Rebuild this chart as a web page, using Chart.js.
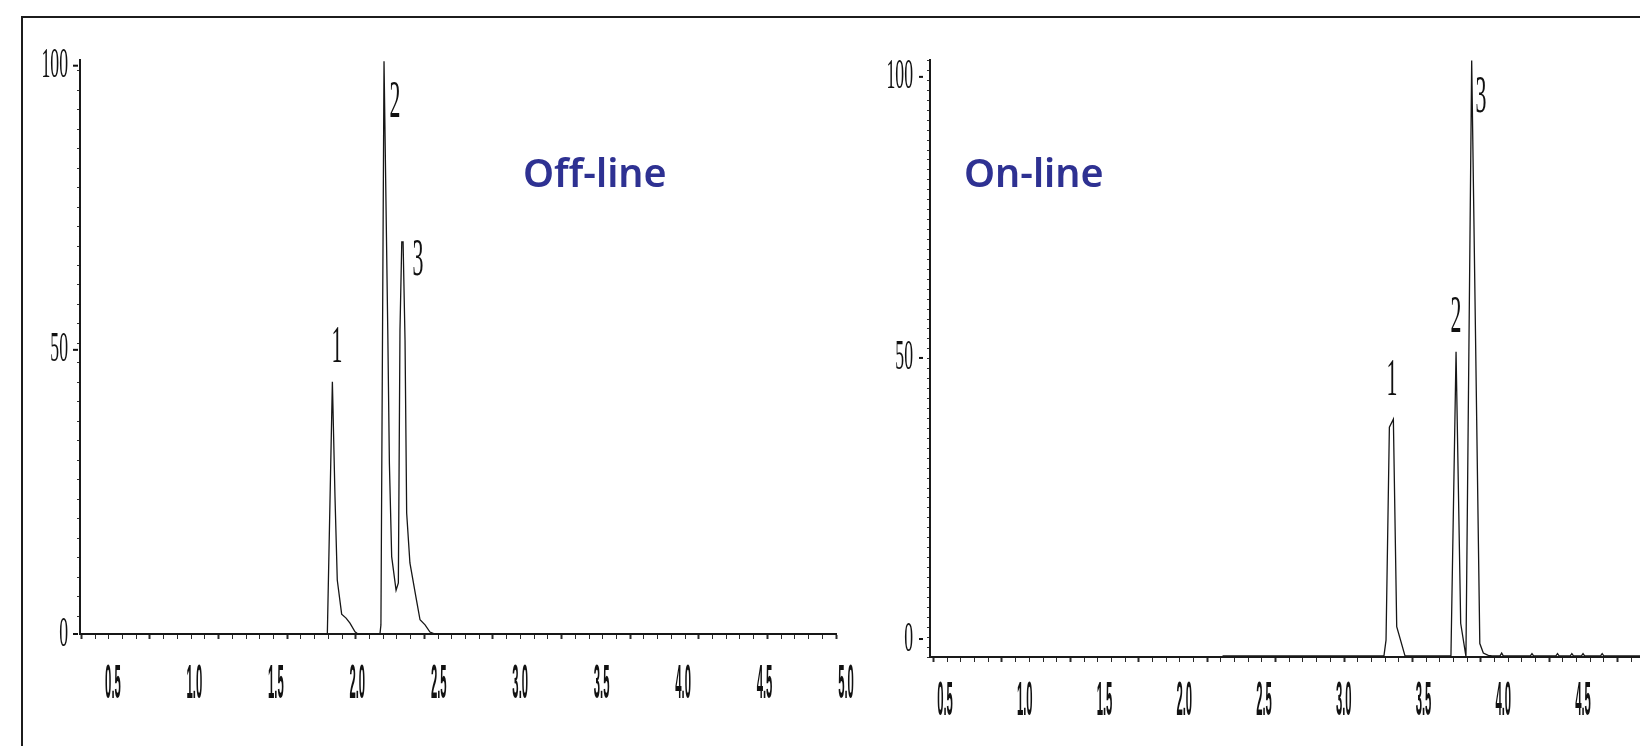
<!DOCTYPE html>
<html>
<head>
<meta charset="utf-8">
<title>Off-line / On-line</title>
<script src="https://cdn.jsdelivr.net/npm/chart.js@4.4.1/dist/chart.umd.min.js"></script>
<style>
html,body{margin:0;padding:0;background:#fff;overflow:hidden;width:1640px;height:746px;}
#frame{position:absolute;left:21px;top:16px;width:1700px;height:800px;border-left:2px solid #1c1c1c;border-top:2px solid #1c1c1c;}
canvas{position:absolute;top:0;}
#cOff{left:0;}
#cOn{left:850px;}
.tag{position:absolute;top:152px;font-family:"Noto Sans",sans-serif;font-weight:600;font-size:39.5px;line-height:40px;color:#2e3192;white-space:nowrap;}
</style>
</head>
<body>
<div id="frame"></div>
<canvas id="cOff" width="870" height="746"></canvas>
<canvas id="cOn" width="830" height="746"></canvas>
<div class="tag" style="left:523px">Off-line</div>
<div class="tag" style="left:964px">On-line</div>
<script>
/* Chromatograms: time (min) vs response (%) */
var offTime   = [0.30, 1.816, 1.847, 1.863, 1.877, 1.904, 1.931, 1.955, 1.986, 2.004,
                 2.139, 2.145, 2.164, 2.187, 2.197, 2.211, 2.238, 2.252, 2.262, 2.273,
                 2.281, 2.293, 2.303, 2.323, 2.360, 2.385, 2.416, 2.446, 2.477, 4.94];
var offSignal = [0, 0, 44.4, 24.2, 9.5, 3.5, 2.8, 1.9, 0.4, 0,
                 0, 1.6, 100.8, 53.5, 30.0, 13.6, 7.7, 9.0, 53.5, 69.0,
                 69.0, 51.7, 21.3, 12.5, 6.5, 2.5, 1.6, 0.35, 0, 0];

var onTime   = [2.24, 3.252, 3.265, 3.286, 3.311, 3.332, 3.384, 3.672, 3.704, 3.733,
                3.766, 3.802, 3.853, 3.875, 3.906, 3.93, 3.98, 3.99, 4.00, 4.17,
                4.18, 4.19, 4.33, 4.34, 4.35, 4.42, 4.43, 4.44, 4.49, 4.50,
                4.51, 4.61, 4.62, 4.63, 5.11];
var onSignal = [-3.0, -3.0, -0.2, 37.7, 39.1, 2.2, -3.0, -3.0, 51.1, 2.8,
                -3.1, 102.9, -0.8, -2.5, -2.9, -3.0, -3.0, -2.5, -3.0, -3.0,
                -2.6, -3.0, -3.0, -2.6, -3.0, -3.0, -2.6, -3.0, -3.0, -2.6,
                -3.0, -3.0, -2.6, -3.0, -3.0];

var offTimeLabels = [0.5, 1.0, 1.5, 2.0, 2.5, 3.0, 3.5, 4.0, 4.5, 5.0];
var onTimeLabels  = [0.5, 1.0, 1.5, 2.0, 2.5, 3.0, 3.5, 4.0, 4.5];
var responseLabels = [0, 50, 100];

var peakNames = ['1', '2', '3'];
var offPeakTime = [1.875, 2.231, 2.373];
var offPeakResp = [50.9, 94.0, 66.3];
var onPeakTime  = [3.302, 3.703, 3.860];
var onPeakResp  = [46.6, 57.8, 96.8];

(function(){
'use strict';

function isWhole(v){ return Math.abs(v - Math.round(v)) < 1e-6; }

// narrow text, like the condensed type of the scanned plot
function txt(ctx, s, x, y, font, sx, align){
  ctx.save();
  ctx.font = font;
  ctx.textAlign = align;
  ctx.textBaseline = 'alphabetic';
  ctx.translate(x, y);
  ctx.scale(sx, 1);
  ctx.fillText(s, 0, 0);
  ctx.restore();
}

var squeeze = {
  id: 'squeeze',
  afterDraw: function(chart, args, o){
    var ctx = chart.ctx, x = chart.scales.x, y = chart.scales.y, a = chart.chartArea;
    ctx.save();
    ctx.fillStyle = '#111';
    o.xLabels.forEach(function(v){
      txt(ctx, v.toFixed(1), x.getPixelForValue(v), a.bottom + o.xDrop,
          'bold 49px "Liberation Sans", Arial, sans-serif', 0.23, 'center');
    });
    o.yLabels.forEach(function(v){
      var py = y.getPixelForValue(v);
      txt(ctx, String(v), a.left - o.yGap, py + 11.5, '43px "Liberation Serif", serif', 0.41, 'right');
      ctx.fillRect(a.left - o.dash[0], py - 1, o.dash[0] - o.dash[1], 2);
    });
    o.peakX.forEach(function(v, i){
      txt(ctx, peakNames[i], x.getPixelForValue(v), y.getPixelForValue(o.peakY[i]) + 17.5,
          '52px "Liberation Serif", serif', 0.42, 'center');
    });
    ctx.restore();
  }
};

function makeChart(id, time, signal, s){
  return new Chart(document.getElementById(id), {
    type: 'line',
    data: {
      datasets: [{
        data: time.map(function(t, i){ return {x: t, y: signal[i]}; }),
        xAxisID: 'x', yAxisID: 'y',
        borderColor: '#161616', borderWidth: 1.3, pointRadius: 0, tension: 0, fill: false, clip: 6
      }]
    },
    options: {
      responsive: false, animation: false, events: [],
      layout: {padding: s.pad},
      plugins: {legend: {display: false}, tooltip: {enabled: false}, squeeze: s.text},
      scales: {
        x: {type: 'linear', display: false, min: s.x[0], max: s.x[1]},
        y: {type: 'linear', display: false, min: s.y[0], max: s.y[1]},
        xt: {
          type: 'linear', axis: 'x', position: 'bottom', min: s.xt[0], max: s.xt[1],
          ticks: {display: false, stepSize: 0.2, includeBounds: false, autoSkip: false},
          grid: {drawOnChartArea: false, tickLength: 5, tickColor: '#2a2a2a',
                 tickWidth: function(c){ return c.tick && isWhole(c.tick.value) ? 2 : 1; }},
          border: {color: '#1a1a1a', width: 2}
        },
        yt: {
          type: 'linear', axis: 'y', position: 'left', min: s.yt[0], max: s.yt[1],
          ticks: {display: false, stepSize: 1, includeBounds: false, autoSkip: false},
          grid: {drawOnChartArea: false, tickLength: 3, tickColor: '#333', tickWidth: 1},
          border: {color: '#1a1a1a', width: 2}
        }
      }
    },
    plugins: [squeeze]
  });
}

makeChart('cOff', offTime, offSignal, {
  pad: {left: 77, right: 34, top: 60, bottom: 107},
  x: [0.2977, 4.9386], y: [0, 101],
  xt: [-0.0204, 11.0], yt: [0.1, 29.54],
  text: {xLabels: offTimeLabels, yLabels: responseLabels, xDrop: 64, yGap: 12, dash: [7, 2],
         peakX: offPeakTime, peakY: offPeakResp}
});

makeChart('cOn', onTime, onSignal, {
  pad: {left: 77, right: 0, top: 60, bottom: 84},
  x: [0.406, 5.108], y: [-3.2, 103.0],
  xt: [-0.0526, 10.912], yt: [0, 60.06],
  text: {xLabels: onTimeLabels, yLabels: responseLabels, xDrop: 58, yGap: 17, dash: [11, 7],
         peakX: onPeakTime, peakY: onPeakResp}
});
})();
</script>
</body>
</html>
